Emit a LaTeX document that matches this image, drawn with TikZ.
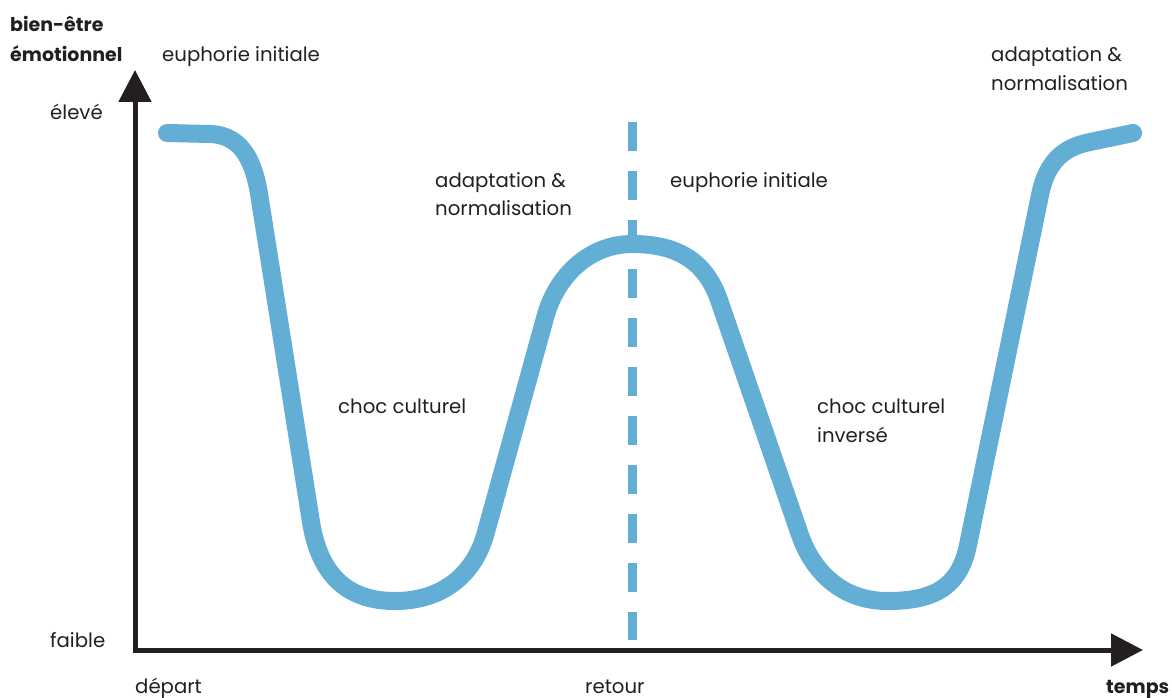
\documentclass[tikz,border=0pt]{standalone}
\usepackage{fontspec}
\setmainfont{Poppins}
\usetikzlibrary{arrows.meta}
\definecolor{curveblue}{RGB}{99,174,212}
\definecolor{ink}{RGB}{35,31,32}
\tikzset{
  lbl/.style={anchor=base west, inner sep=0pt, text=ink, font=\fontsize{19.7}{22}\selectfont},
  blbl/.style={lbl, font=\fontsize{19}{22}\selectfont\bfseries},
  axisline/.style={draw=ink, line width=5pt, {Triangle[width=32pt,length=32pt]}-{Triangle[width=32pt,length=32pt]}},
  wave/.style={draw=curveblue, line width=18pt, line cap=round, line join=round},
  divider/.style={draw=curveblue, line width=9pt, dash pattern=on 29pt off 20pt}
}
\begin{document}
\begin{tikzpicture}[x=1pt,y=-1pt]
\useasboundingbox (0,0) rectangle (1172,698);
% axes
\coordinate (ytip) at (135,70);
\coordinate (origin) at (135,650);
\coordinate (xtip) at (1143,650);
\draw[axisline] (ytip) -- (origin) -- (xtip);
% return divider
\coordinate (dtop) at (632,122);
\coordinate (dbot) at (632,640);
\draw[divider] (dtop) -- (dbot);
% W curve
\coordinate (s) at (167,133);
\draw[wave] (s) -- (210,134)
  .. controls (244,135) and (255,165) .. (260,200)
  -- (311,522)
  .. controls (320,578) and (350,601) .. (395,601)
  .. controls (440,601) and (474,577) .. (486,532)
  -- (545,318)
  .. controls (557,273) and (592,244) .. (632,244)
  .. controls (676,244) and (705,260) .. (719,300)
  -- (800,535)
  .. controls (814,575) and (845,601) .. (887,601)
  .. controls (930,601) and (959,590) .. (968,545)
  -- (1040,195)
  .. controls (1047,160) and (1065,147) .. (1090,142)
  -- (1133,133);
% labels
\node[blbl] (yl1) at (10,32) {bien-être};
\node[blbl] (yl2) at (10,62) {émotionnel};
\node[lbl] (hi) at (50,120) {élevé};
\node[lbl] (lo) at (50,647) {faible};
\node[lbl] (dep) at (135,693) {départ};
\node[lbl] (ret) at (585,693) {retour};
\node[blbl] (tm) at (1106,693) {temps};
\node[lbl] (eu1) at (162,62) {euphorie initiale};
\node[lbl] (cc1) at (338,413) {choc culturel};
\node[lbl] (ad1a) at (435,187) {adaptation \&};
\node[lbl] (ad1b) at (435,215) {normalisation};
\node[lbl] (eu2) at (670,187) {euphorie initiale};
\node[lbl] (cc2a) at (817,413) {choc culturel};
\node[lbl] (cc2b) at (817,442) {inversé};
\node[lbl] (ad2a) at (991,62) {adaptation \&};
\node[lbl] (ad2b) at (991,91) {normalisation};
\end{tikzpicture}
\end{document}
